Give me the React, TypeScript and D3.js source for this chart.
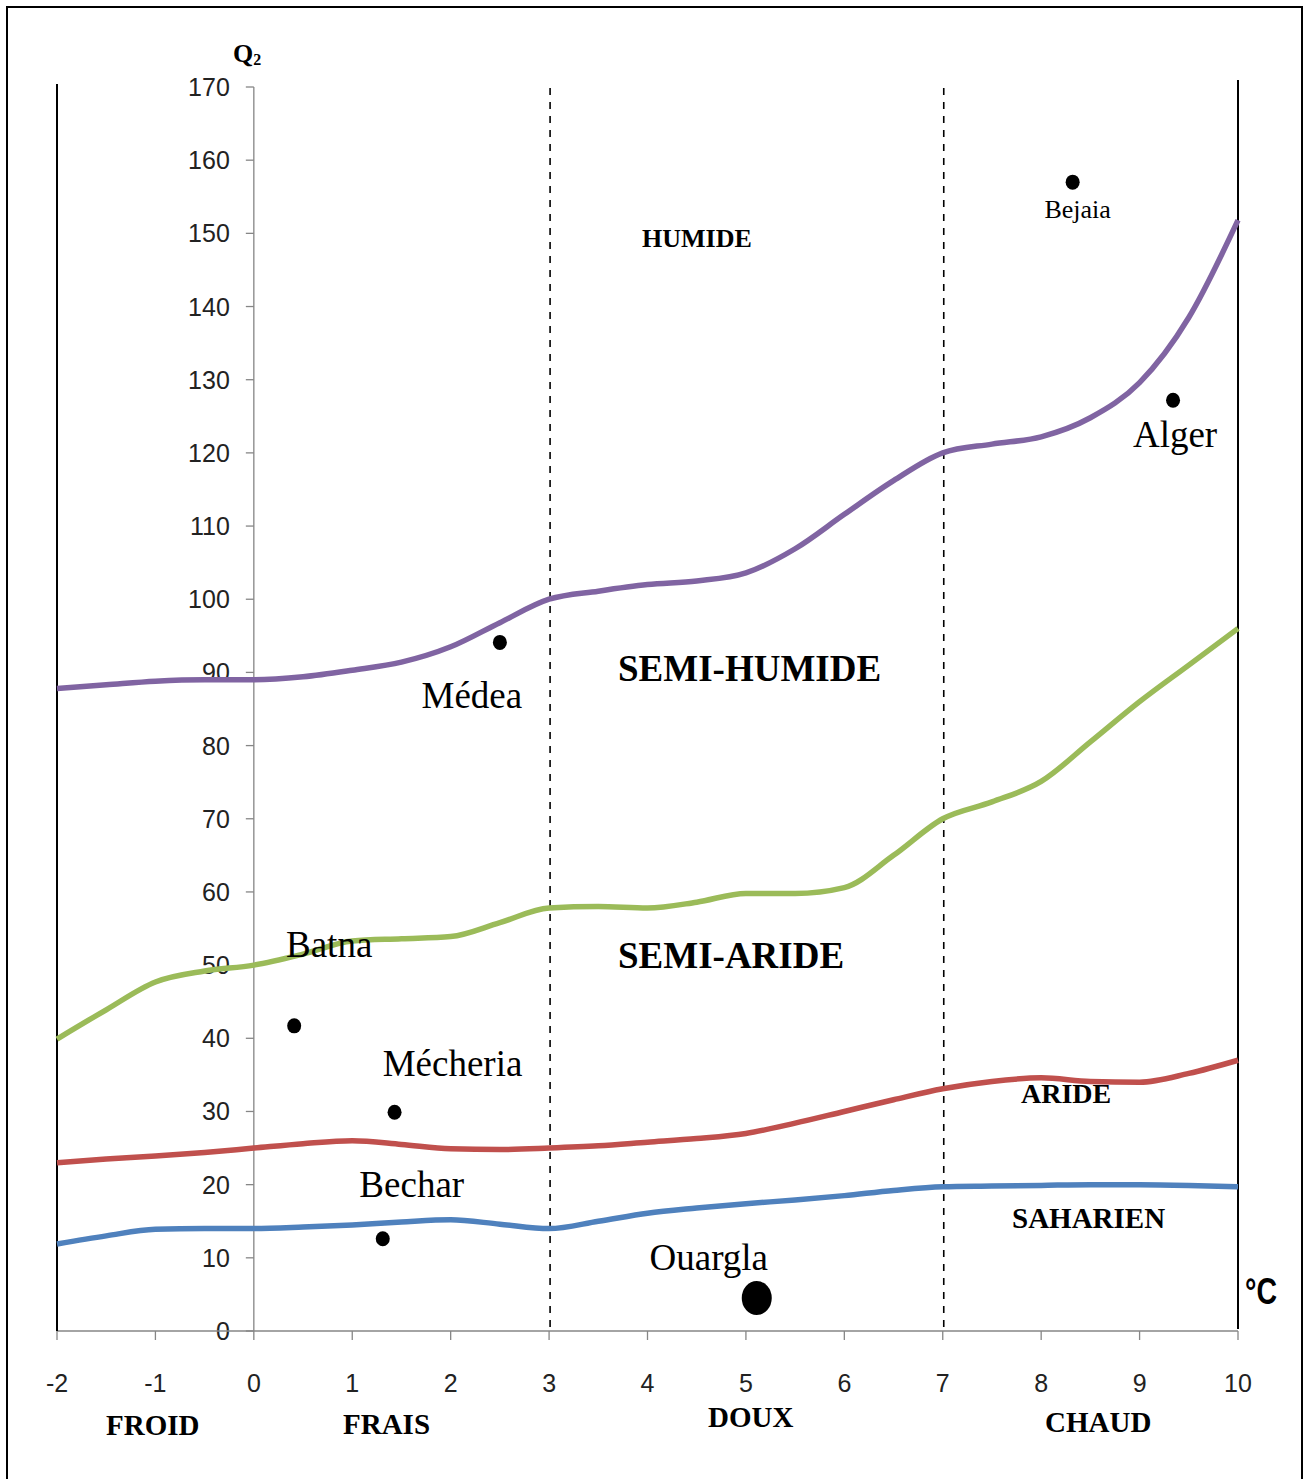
import React from "react";
import * as d3 from "d3";

// Temperature m (°C) sampled along the boundary curves
const curveT = [-2, -1.5, -1, -0.5, 0, 0.5, 1, 1.5, 2, 2.5, 3, 3.5, 4, 4.5, 5, 5.5, 6, 6.5, 7, 7.5, 8, 8.5, 9, 9.5, 10];
// Q2 values of each boundary
const humideLimit = [87.8, 88.3, 88.8, 89, 89, 89.4, 90.3, 91.4, 93.5, 96.8, 100, 101.1, 102, 102.5, 103.6, 106.9, 111.6, 116.2, 120, 121.2, 122.2, 124.8, 129.6, 138.5, 151.8];
const semiHumideLimit = [39.9, 43.9, 47.7, 49.2, 50, 51.5, 53.3, 53.6, 53.9, 55.8, 57.8, 58, 57.8, 58.6, 59.8, 59.8, 60.6, 65, 70, 72.3, 75.1, 80.5, 86, 91, 96];
const aridLimit = [23, 23.5, 23.9, 24.4, 25, 25.6, 26, 25.5, 24.9, 24.8, 25, 25.3, 25.8, 26.3, 27, 28.4, 30, 31.6, 33.1, 34.1, 34.6, 34.1, 34, 35.2, 37];
const saharienLimit = [11.9, 13, 13.9, 14, 14, 14.2, 14.5, 14.9, 15.2, 14.6, 14, 15, 16.1, 16.8, 17.4, 17.9, 18.5, 19.2, 19.7, 19.8, 19.9, 20, 20, 19.9, 19.7];

// Stations
const stationNames = ["Bejaia", "Alger", "Médea", "Batna", "Mécheria", "Bechar", "Ouargla"];
const stationT = [8.32, 9.34, 2.5, 0.41, 1.43, 1.31, 5.11];
const stationQ2 = [157.0, 127.2, 94.1, 41.7, 29.9, 12.6, 4.5];

const xTicks = [-2, -1, 0, 1, 2, 3, 4, 5, 6, 7, 8, 9, 10];
const yTicks = [0, 10, 20, 30, 40, 50, 60, 70, 80, 90, 100, 110, 120, 130, 140, 150, 160, 170];
const thermalLimits = [3, 7];

const W = 1311;
const H = 1479;

export default function App() {
  const x = d3.scaleLinear().domain([-2, 10]).range([57, 1238]);
  const y = d3.scaleLinear().domain([0, 170]).range([1331, 87]);

  const line = d3
    .line<number>()
    .x((_, i) => x(curveT[i]))
    .y((d) => y(d))
    .curve(d3.curveMonotoneX);

  const curves = [
    { v: humideLimit, c: "#8064A2" },
    { v: semiHumideLimit, c: "#9BBB59" },
    { v: aridLimit, c: "#C0504D" },
    { v: saharienLimit, c: "#4F81BD" },
  ];

  // label layout relative to dots (px)
  const labelLayout: Record<string, { dx: number; dy: number; size: number; r: number; ry?: number }> = {
    Bejaia: { dx: 5, dy: 36, size: 26, r: 7 },
    Alger: { dx: 2, dy: 47, size: 37, r: 7 },
    "Médea": { dx: -28, dy: 66, size: 37, r: 7 },
    Batna: { dx: 35, dy: -69, size: 37, r: 7 },
    "Mécheria": { dx: 58, dy: -36, size: 37, r: 7 },
    Bechar: { dx: 29, dy: -42, size: 37, r: 7 },
    Ouargla: { dx: -48, dy: -28, size: 37, r: 15, ry: 17 },
  };

  const serif = "'Liberation Serif', 'Times New Roman', serif";
  const sans = "'Liberation Sans', Arial, sans-serif";
  const axisColor = "#868686";

  return (
    <svg
      width={W}
      height={H}
      style={{ position: "absolute", left: 0, top: 0, background: "#fff" }}
    >
      <rect x={0} y={0} width={W} height={H} fill="#fff" />
      {/* outer frame */}
      <path d={`M7,${H + 10} L7,7 L1302,7 L1302,${H + 10}`} fill="none" stroke="#000" strokeWidth={2} />

      {/* y axis */}
      <line x1={x(0)} x2={x(0)} y1={y(170)} y2={y(0)} stroke={axisColor} strokeWidth={1.3} />
      {yTicks.map((t) => (
        <g key={"y" + t}>
          <line x1={x(0) - 8} x2={x(0)} y1={y(t)} y2={y(t)} stroke={axisColor} strokeWidth={1.3} />
          <text
            x={x(0) - 24}
            y={y(t)}
            textAnchor="end"
            dominantBaseline="central"
            fontFamily={sans}
            fontSize={25}
            fill="#222"
          >
            {t}
          </text>
        </g>
      ))}

      {/* x axis */}
      <line x1={x(-2)} x2={x(10)} y1={y(0)} y2={y(0)} stroke={axisColor} strokeWidth={1.3} />
      {xTicks.map((t) => (
        <g key={"x" + t}>
          <line x1={x(t)} x2={x(t)} y1={y(0)} y2={y(0) + 9} stroke={axisColor} strokeWidth={1.3} />
          <text x={x(t)} y={1392} textAnchor="middle" fontFamily={sans} fontSize={25} fill="#222">
            {t}
          </text>
        </g>
      ))}

      {/* black bounding verticals */}
      <line x1={x(-2)} x2={x(-2)} y1={84} y2={y(0)} stroke="#000" strokeWidth={2} />
      <line x1={x(10)} x2={x(10)} y1={80} y2={y(0) - 2} stroke="#000" strokeWidth={2} />

      {/* dashed thermal limits */}
      {thermalLimits.map((t) => (
        <line
          key={"d" + t}
          x1={x(t) + 1}
          x2={x(t) + 1}
          y1={88}
          y2={y(0)}
          stroke="#000"
          strokeWidth={1.6}
          strokeDasharray="7,7"
        />
      ))}

      {/* boundary curves */}
      {curves.map((c, i) => (
        <path key={"c" + i} d={line(c.v) || ""} fill="none" stroke={c.c} strokeWidth={5.5} strokeLinecap="butt" />
      ))}

      {/* stations */}
      {stationNames.map((n, i) => {
        const L = labelLayout[n];
        const cx = x(stationT[i]);
        const cy = y(stationQ2[i]);
        return (
          <g key={n}>
            <ellipse cx={cx} cy={cy} rx={L.r} ry={L.ry ?? L.r + 0.5} fill="#000" />
            <text x={cx + L.dx} y={cy + L.dy} textAnchor="middle" fontFamily={serif} fontSize={L.size} fill="#000">
              {n}
            </text>
          </g>
        );
      })}

      {/* zone labels */}
      <g fontFamily={serif} fontWeight="bold" fill="#000">
        <text x={642} y={247} fontSize={26}>HUMIDE</text>
        <text x={618} y={681} fontSize={37}>SEMI-HUMIDE</text>
        <text x={618} y={968} fontSize={37}>SEMI-ARIDE</text>
        <text x={1021} y={1103} fontSize={28}>ARIDE</text>
        <text x={1012} y={1228} fontSize={29}>SAHARIEN</text>
        <text x={106} y={1435} fontSize={29}>FROID</text>
        <text x={343} y={1434} fontSize={29}>FRAIS</text>
        <text x={708} y={1427} fontSize={29}>DOUX</text>
        <text x={1045} y={1432} fontSize={29}>CHAUD</text>
        <text x={233} y={62} fontSize={26}>
          Q<tspan fontSize={16} dy={3}>2</tspan>
        </text>
      </g>
      <text x={1245} y={1304} fontFamily={sans} fontSize={36} fontWeight="bold" textLength={32} lengthAdjust="spacingAndGlyphs" fill="#000">
        °C
      </text>
    </svg>
  );
}
